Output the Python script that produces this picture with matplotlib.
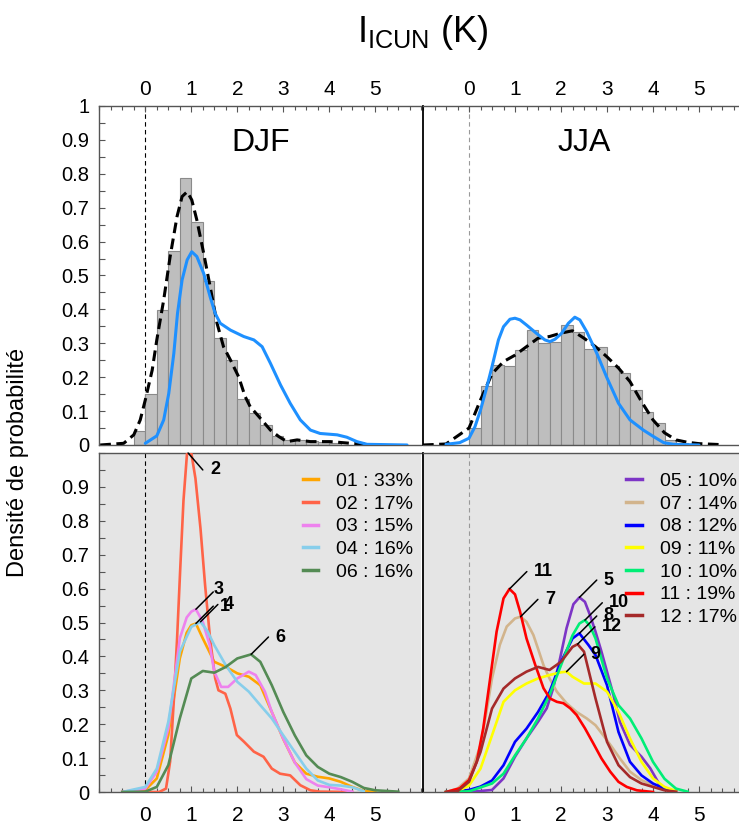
import matplotlib
matplotlib.use("Agg")
import matplotlib.pyplot as plt
import numpy as np
from matplotlib.ticker import FixedLocator, MultipleLocator, FuncFormatter

plt.rcParams["font.family"] = ["Liberation Sans", "DejaVu Sans"]
plt.rcParams["mathtext.fontset"] = "custom"
plt.rcParams["mathtext.rm"] = "Liberation Sans"

# ---------------- data ----------------
BIN_WIDTH = 0.25

djf_hist_start = -0.25
djf_hist = [0.041, 0.15, 0.398, 0.572, 0.789, 0.659, 0.484, 0.315, 0.251, 0.135,
            0.093, 0.059, 0.027, 0.015, 0.015, 0.012, 0.01, 0.005]
jja_hist_start = 0.0
jja_hist = [0.049, 0.174, 0.236, 0.233, 0.28, 0.339, 0.3, 0.305, 0.354, 0.334,
            0.282, 0.29, 0.233, 0.213, 0.162, 0.098, 0.066, 0.015, 0.007, 0.003]

djf_kde_x = [-0.98, -0.47, -0.25, -0.11, 0, 0.15, 0.25, 0.4, 0.54, 0.69, 0.8, 0.91,
             1.01, 1.12, 1.27, 1.41, 1.56, 1.7, 1.85, 2.03, 2.17, 2.28, 2.5, 2.72, 2.9,
             3.08, 3.3, 3.59, 4.02, 4.46, 5.04]
djf_kde_y = [0.0, 0.005, 0.03, 0.074, 0.133, 0.221, 0.31, 0.428, 0.556, 0.674, 0.733,
             0.747, 0.723, 0.664, 0.565, 0.467, 0.359, 0.29, 0.251, 0.201, 0.143, 0.113,
             0.079, 0.044, 0.025, 0.01, 0.015, 0.01, 0.01, 0.005, 0.0]
djf_blue_x = [0, 0.25, 0.4, 0.51, 0.62, 0.7, 0.8, 0.91, 1.01, 1.12, 1.27, 1.41, 1.52,
              1.63, 1.85, 2.14, 2.36, 2.54, 2.72, 2.94, 3.15, 3.37, 3.59, 3.8, 4.17,
              4.38, 4.6, 4.82, 5.69]
djf_blue_y = [0.005, 0.027, 0.074, 0.152, 0.27, 0.388, 0.487, 0.546, 0.57, 0.556,
              0.506, 0.437, 0.388, 0.359, 0.339, 0.32, 0.31, 0.29, 0.241, 0.177, 0.123,
              0.074, 0.044, 0.034, 0.03, 0.023, 0.01, 0.002, 0.0]

jja_kde_x = [-1.0, -0.5, 0, 0.25, 0.5, 0.75, 1.0, 1.25, 1.5, 1.75, 2.0, 2.25, 2.5,
             2.75, 3.0, 3.25, 3.5, 3.75, 4.0, 4.25, 4.5, 4.75, 5.0, 5.5]
jja_kde_y = [0.0, 0.003, 0.05, 0.133, 0.21, 0.246, 0.265, 0.29, 0.315, 0.32, 0.33,
             0.337, 0.315, 0.29, 0.26, 0.227, 0.187, 0.128, 0.074, 0.036, 0.015,
             0.008, 0.004, 0.001]
jja_blue_x = [-0.5, -0.2, 0, 0.13, 0.25, 0.38, 0.5, 0.64, 0.75, 0.89, 1.0, 1.11, 1.25,
              1.47, 1.65, 1.76, 1.87, 2.01, 2.16, 2.3, 2.41, 2.56, 2.78, 2.99, 3.25,
              3.5, 3.79, 4.01, 4.23, 4.44, 5.0]
jja_blue_y = [0.002, 0.007, 0.02, 0.054, 0.103, 0.167, 0.231, 0.31, 0.349, 0.371,
              0.374, 0.369, 0.354, 0.329, 0.31, 0.305, 0.312, 0.329, 0.359, 0.377,
              0.369, 0.334, 0.27, 0.201, 0.123, 0.074, 0.044, 0.025, 0.007, 0.002, 0.0]

# DJF clusters
c01_x = [-0.5, 0, 0.25, 0.5, 0.75, 0.9, 1.0, 1.1, 1.25, 1.5, 1.75, 2.0, 2.25, 2.5,
         2.75, 3.0, 3.25, 3.5, 3.75, 4.0, 4.25, 4.5, 4.75, 5.0]
c01_y = [0.0, 0.006, 0.04, 0.168, 0.394, 0.47, 0.492, 0.497, 0.453, 0.384, 0.369,
         0.35, 0.34, 0.315, 0.236, 0.156, 0.087, 0.054, 0.045, 0.04, 0.03, 0.015,
         0.003, 0.0]
c02_x = [-0.5, 0.3, 0.45, 0.54, 0.62, 0.69, 0.76, 0.83, 0.93, 1.0, 1.09, 1.2, 1.3,
         1.41, 1.52, 1.59, 1.74, 1.85, 1.99, 2.14, 2.36, 2.57, 2.75, 2.93, 3.15, 3.37,
         3.59, 3.8, 4.5]
c02_y = [0.0, 0.0, 0.01, 0.09, 0.27, 0.45, 0.66, 0.86, 1.04, 1.0, 0.925, 0.777, 0.61,
         0.45, 0.335, 0.30, 0.29, 0.246, 0.168, 0.149, 0.119, 0.104, 0.069, 0.054,
         0.049, 0.02, 0.005, 0.001, 0.0]
c03_x = [-0.5, 0, 0.25, 0.5, 0.75, 0.9, 1.0, 1.1, 1.25, 1.4, 1.5, 1.65, 1.8, 2.0, 2.25,
         2.4, 2.6, 2.75, 3.0, 3.25, 3.5, 3.75, 4.0, 4.25, 4.5]
c03_y = [0.0, 0.01, 0.06, 0.188, 0.453, 0.515, 0.532, 0.539, 0.502, 0.433, 0.355, 0.31,
         0.31, 0.335, 0.355, 0.345, 0.296, 0.236, 0.157, 0.087, 0.038, 0.019, 0.014,
         0.008, 0.001]
c04_x = [-0.5, 0, 0.25, 0.5, 0.75, 1.0, 1.2, 1.35, 1.5, 1.75, 2.0, 2.25, 2.5, 2.75,
         3.0, 3.25, 3.5, 3.75, 4.0, 4.25, 4.5, 4.75]
c04_y = [0.0, 0.015, 0.069, 0.207, 0.414, 0.487, 0.502, 0.475, 0.433, 0.374, 0.325,
         0.296, 0.256, 0.217, 0.167, 0.118, 0.069, 0.034, 0.021, 0.019, 0.014, 0.002]
c06_x = [-0.5, 0, 0.25, 0.5, 0.75, 1.0, 1.25, 1.5, 1.75, 2.0, 2.3, 2.5, 2.75, 3.0,
         3.25, 3.5, 3.75, 4.0, 4.25, 4.5, 4.75, 5.0, 5.5]
c06_y = [0.0, 0.001, 0.015, 0.079, 0.217, 0.335, 0.357, 0.352, 0.369, 0.394, 0.406,
         0.384, 0.315, 0.236, 0.167, 0.108, 0.074, 0.054, 0.044, 0.03, 0.012, 0.005,
         0.001]

# JJA clusters
c05_x = [0, 0.5, 0.75, 1.0, 1.25, 1.5, 1.69, 1.83, 1.98, 2.12, 2.27, 2.4, 2.52, 2.63,
         2.75, 2.88, 3.0, 3.14, 3.28, 3.5, 3.75, 3.94, 4.15, 4.37]
c05_y = [0.0, 0.006, 0.04, 0.104, 0.158, 0.207, 0.247, 0.306, 0.394, 0.483, 0.554,
         0.574, 0.561, 0.522, 0.473, 0.414, 0.355, 0.286, 0.207, 0.139, 0.104, 0.07,
         0.02, 0.003]
c07_x = [-0.5, -0.25, 0, 0.25, 0.38, 0.5, 0.67, 0.82, 1.0, 1.12, 1.25, 1.4, 1.5, 1.62,
         1.75, 1.91, 2.12, 2.34, 2.56, 2.75, 2.92, 3.1, 3.28, 3.5, 3.75, 4.0, 4.25, 4.51]
c07_y = [0.0, 0.01, 0.04, 0.138, 0.237, 0.335, 0.434, 0.488, 0.512, 0.517, 0.502,
         0.463, 0.423, 0.374, 0.335, 0.296, 0.262, 0.236, 0.217, 0.197, 0.167, 0.134,
         0.099, 0.06, 0.035, 0.02, 0.01, 0.001]
c08_x = [-0.5, 0, 0.25, 0.5, 0.75, 1.0, 1.25, 1.5, 1.75, 2.0, 2.25, 2.4, 2.6, 2.75,
         3.0, 3.25, 3.5, 3.75, 4.0, 4.25, 4.5]
c08_y = [0.0, 0.006, 0.016, 0.034, 0.079, 0.148, 0.187, 0.236, 0.295, 0.384, 0.453,
         0.468, 0.433, 0.404, 0.315, 0.177, 0.089, 0.049, 0.025, 0.01, 0.002]
c09_x = [-0.5, -0.25, 0, 0.25, 0.5, 0.75, 1.0, 1.25, 1.5, 1.75, 2.0, 2.12, 2.25, 2.5,
         2.75, 3.0, 3.25, 3.5, 3.75, 4.0, 4.25, 4.5]
c09_y = [0.0, 0.002, 0.019, 0.069, 0.167, 0.266, 0.3, 0.32, 0.335, 0.345, 0.353, 0.355,
         0.34, 0.32, 0.32, 0.296, 0.236, 0.158, 0.089, 0.04, 0.015, 0.003]
c10_x = [-0.5, 0, 0.5, 0.75, 1.0, 1.25, 1.5, 1.75, 2.0, 2.25, 2.4, 2.52, 2.63, 2.75,
         3.0, 3.25, 3.5, 3.75, 4.0, 4.25, 4.5, 4.75]
c10_y = [0.0, 0.002, 0.025, 0.054, 0.108, 0.158, 0.217, 0.286, 0.374, 0.462, 0.497,
         0.507, 0.49, 0.453, 0.335, 0.256, 0.217, 0.158, 0.089, 0.039, 0.01, 0.001]
c11_x = [-0.5, -0.2, 0, 0.17, 0.31, 0.46, 0.6, 0.75, 0.88, 1.0, 1.11, 1.25, 1.44, 1.62,
         1.76, 1.91, 2.05, 2.2, 2.34, 2.52, 2.7, 2.88, 3.07, 3.25, 3.43, 3.65, 4.0]
c11_y = [0.0, 0.011, 0.035, 0.089, 0.188, 0.335, 0.473, 0.571, 0.599, 0.583, 0.532,
         0.453, 0.375, 0.306, 0.276, 0.266, 0.262, 0.247, 0.227, 0.188, 0.144, 0.099,
         0.06, 0.03, 0.015, 0.005, 0.0]
c12_x = [-0.5, -0.25, 0, 0.25, 0.5, 0.75, 1.0, 1.25, 1.5, 1.75, 2.0, 2.25, 2.36, 2.5,
         2.75, 3.0, 3.25, 3.5, 3.75, 4.0, 4.25, 4.5]
c12_y = [0.0, 0.002, 0.03, 0.118, 0.246, 0.305, 0.335, 0.355, 0.369, 0.36, 0.384,
         0.428, 0.436, 0.414, 0.276, 0.148, 0.079, 0.044, 0.025, 0.015, 0.005, 0.001]

djf_ids = ["01", "02", "03", "04", "06"]
djf_pct = [33, 17, 15, 16, 16]
djf_colors = ["#FFA500", "#FF6347", "#EE82EE", "#87CEEB", "#548B54"]
djf_curves = [(c01_x, c01_y), (c02_x, c02_y), (c03_x, c03_y), (c04_x, c04_y), (c06_x, c06_y)]

jja_ids = ["05", "07", "08", "09", "10", "11", "12"]
jja_pct = [10, 14, 12, 11, 10, 19, 17]
jja_colors = ["#7D35C6", "#D2B48C", "#0000FF", "#FFFF00", "#00EE76", "#FF0000", "#A52A2A"]
jja_curves = [(c05_x, c05_y), (c07_x, c07_y), (c08_x, c08_y), (c09_x, c09_y),
              (c10_x, c10_y), (c11_x, c11_y), (c12_x, c12_y)]

# ---------------- layout ----------------
W, H = 739, 827
fig = plt.figure(figsize=(W / 100, H / 100), dpi=100)


def box(x0, ytop, ybot, width=322):
    return [x0 / W, (H - ybot) / H, width / W, (ybot - ytop) / H]


ax_tl = fig.add_axes(box(99.3, 106, 445))
ax_tr = fig.add_axes(box(423, 106, 445))
ax_bl = fig.add_axes(box(99.3, 453, 792))
ax_br = fig.add_axes(box(423, 453, 792))

SPINE = "#555555"
fmt = FuncFormatter(lambda v, p: f"{v:g}")


def style(ax, top, left):
    ax.set_xlim(-1, 6)
    ax.set_ylim(0, 1)
    for s in ax.spines.values():
        s.set_color(SPINE)
        s.set_linewidth(1.0)
    if left:
        ax.spines["right"].set_visible(False)
    else:
        ax.spines["left"].set_color("black")
        ax.spines["left"].set_linewidth(1.3)
    ax.xaxis.set_major_locator(FixedLocator([0, 1, 2, 3, 4, 5]))
    ax.xaxis.set_minor_locator(MultipleLocator(0.25))
    ax.xaxis.set_major_formatter(fmt)
    ax.tick_params(axis="x", which="both", direction="in", colors=SPINE,
                   labelcolor="black", labelsize=15,
                   top=top, labeltop=top, bottom=not top, labelbottom=not top,
                   pad=5 if top else 10)
    ax.tick_params(axis="x", which="major", length=4.5, width=0.8)
    ax.tick_params(axis="x", which="minor", length=3, width=0.8)
    if left:
        ax.set_yticks(np.arange(0, 1.05 if top else 0.95, 0.1))
        ax.yaxis.set_minor_locator(MultipleLocator(0.05))
        ax.yaxis.set_major_formatter(fmt)
        ax.tick_params(axis="y", which="both", direction="in", colors=SPINE,
                       labelcolor="black", labelsize=14.5, pad=7, right=False)
        ax.tick_params(axis="y", which="both", length=4, width=0.8)
    else:
        ax.tick_params(axis="y", which="both", left=False, labelleft=False,
                       right=False)
    ax.axvline(0, color="black" if left else "#999999", lw=0.8,
               ls=(0, (4, 3)), zorder=1)


for ax, top, left in [(ax_tl, True, True), (ax_tr, True, False),
                      (ax_bl, False, True), (ax_br, False, False)]:
    style(ax, top, left)

# ---------------- top: histograms + kde ----------------
for ax, start, hist, kx, ky, bx, by, title in [
        (ax_tl, djf_hist_start, djf_hist, djf_kde_x, djf_kde_y, djf_blue_x, djf_blue_y, "DJF"),
        (ax_tr, jja_hist_start, jja_hist, jja_kde_x, jja_kde_y, jja_blue_x, jja_blue_y, "JJA")]:
    lefts = start + BIN_WIDTH * np.arange(len(hist))
    ax.bar(lefts, hist, width=BIN_WIDTH, align="edge", color="#BEBEBE",
           edgecolor="#8A8A8A", linewidth=0.8, zorder=2)
    ax.plot(kx, ky, color="black", lw=2.2, dashes=(3.5, 1.8), zorder=3)
    ax.plot(bx, by, color="#1E90FF", lw=2.2, zorder=4, solid_capstyle="round",
            solid_joinstyle="round")
    ax.text(2.5, 0.89, title, fontsize=23, ha="center", va="center")

# ---------------- bottom: clusters ----------------
# leader line end (points from the curve peak) and label nudges (points)
line_end = {"02": (10.6, -12.2)}
label_nudge = {"02": (5.5, 0), "03": (0, 2), "04": (4, 0)}
for ax, ids, pct, colors, curves in [(ax_bl, djf_ids, djf_pct, djf_colors, djf_curves),
                                     (ax_br, jja_ids, jja_pct, jja_colors, jja_curves)]:
    ax.set_facecolor("#E5E5E5")
    for cid, p, c, (cx, cy) in zip(ids, pct, colors, curves):
        ax.plot(cx, cy, color=c, lw=1.9, label=f"{cid} : {p}%", zorder=3,
                solid_joinstyle="round")
    for cid, (cx, cy) in zip(ids, curves):
        i = int(np.argmax(cy))
        px, py = cx[i], min(cy[i], 1.0)
        ex, ey = line_end.get(cid, (12.5, 12.5))
        nx, ny = label_nudge.get(cid, (5.0, 0))
        ax.annotate("", xy=(px, py), xytext=(ex, ey), textcoords="offset points",
                    arrowprops=dict(arrowstyle="-", color="black", lw=1.1,
                                    shrinkA=0, shrinkB=0), zorder=5)
        ax.annotate(str(int(cid)), xy=(px, py), xytext=(ex + nx, ey + ny),
                    textcoords="offset points", fontsize=13, fontweight="bold",
                    ha="left", va="center", zorder=5)
    leg = ax.legend(loc="upper right", bbox_to_anchor=(1, 0.967), fontsize=14,
                    frameon=False, handlelength=0.8, handletextpad=0.9,
                    labelspacing=0.26, borderaxespad=0.13, borderpad=0.3)
    for h in leg.get_lines():
        h.set_linewidth(2.5)

fig.text(423 / W, 1 - 33 / H, r"I$_{\mathregular{ICUN}}$ (K)", fontsize=26,
         ha="center", va="center")
fig.text(18 / W, 1 - 462 / H, "Densité de probabilité", fontsize=17,
         rotation=90, ha="center", va="center")

fig.savefig("out.png", dpi=100)
